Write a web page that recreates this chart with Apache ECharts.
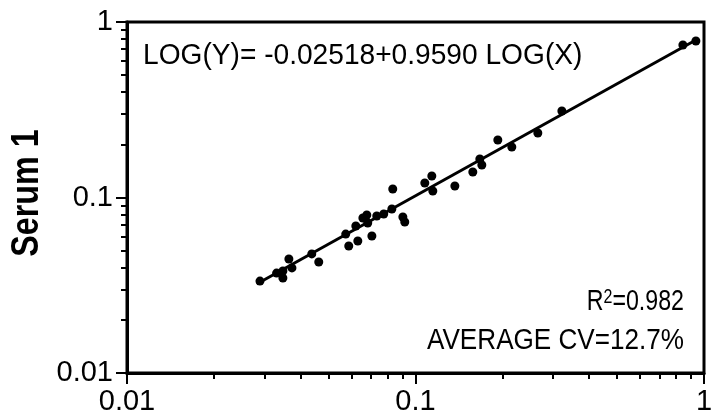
<!DOCTYPE html>
<html>
<head>
<meta charset="utf-8">
<script src="https://cdn.jsdelivr.net/npm/echarts@6/dist/echarts.min.js"></script>
<style>
html,body{margin:0;padding:0;background:#fff;}
#chart{width:711px;height:420px;}
</style>
</head>
<body>
<div id="chart"></div>
<script>
// Scatter values (Serum 1 vs reference)
const xVals = [0.0289,0.0330,0.0347,0.0347,0.0364,0.0373,0.0437,0.0462,0.0573,0.0587,
               0.0631,0.0621,0.0657,0.0678,0.0683,0.0706,0.0734,0.0776,0.0828,0.0834,
               0.0904,0.0918,0.1077,0.1139,0.1148,0.1369,0.1580,0.1671,0.1698,0.1929,
               0.2157,0.2655,0.3216,0.8449,0.9374];
const yVals = [0.0334,0.0371,0.0381,0.0348,0.0446,0.0397,0.0477,0.0429,0.0619,0.0529,
               0.0565,0.0688,0.0764,0.0795,0.0716,0.0603,0.0785,0.0805,0.0860,0.1118,
               0.0774,0.0725,0.1209,0.1326,0.1089,0.1163,0.1397,0.1658,0.1532,0.2126,
               0.1940,0.2331,0.3111,0.7396,0.7792];
// Regression line endpoints
const fitX = [0.02816, 0.9374];
const fitY = [0.03214, 0.7895];
// Axis ticks
const majorTicks = [0.01, 0.1, 1];
const majorLabels = ['0.01', '0.1', '1'];
const minorTicks = [0.02,0.03,0.04,0.05,0.06,0.07,0.08,0.09,0.2,0.3,0.4,0.5,0.6,0.7,0.8,0.9];
const yTitle = 'Serum 1';
const eqText = 'LOG(Y)= -0.02518+0.9590 LOG(X)';
const r2Text = '{n|R}{s|2}{n|=0.982}';
const cvText = 'AVERAGE CV=12.7%';

const FONT = '"Liberation Sans", Arial, sans-serif';
const fmt = v => {
  let best = 0;
  majorTicks.forEach((t, i) => { if (Math.abs(Math.log10(t) - Math.log10(v)) < Math.abs(Math.log10(majorTicks[best]) - Math.log10(v))) best = i; });
  return majorLabels[best];
};

function majorAxis(extra) {
  return Object.assign({
    type: 'log', logBase: 10, min: 0.01, max: 1, gridIndex: 0,
    axisLine: {show: true, onZero: false, lineStyle: {color: '#000', width: 3}},
    axisTick: {show: true, inside: false, length: 11, customValues: majorTicks, lineStyle: {color: '#000', width: 2}},
    minorTick: {show: false},
    splitLine: {show: false},
    axisLabel: {show: true, customValues: majorTicks, formatter: fmt, color: '#000', fontFamily: FONT, fontSize: 29, margin: 14, showMinLabel: true, showMaxLabel: true},
  }, extra);
}
function minorAxis(extra) {
  return Object.assign({
    type: 'log', logBase: 10, min: 0.01, max: 1, gridIndex: 0,
    axisLine: {show: false, onZero: false},
    axisTick: {show: true, inside: false, length: 6, customValues: minorTicks, lineStyle: {color: '#000', width: 2}},
    splitLine: {show: false},
    axisLabel: {show: false},
  }, extra);
}

const chart = echarts.init(document.getElementById('chart'), null, {renderer: 'canvas'});
chart.setOption({
  animation: false,
  backgroundColor: '#fff',
  grid: {left: 127, right: 7, top: 22, bottom: 47, show: true, borderColor: '#000', borderWidth: 3,
         backgroundColor: 'transparent', containLabel: false, outerBoundsMode: 'none'},
  xAxis: [
    majorAxis({position: 'bottom'}),
    minorAxis({position: 'bottom'})
  ],
  yAxis: [
    majorAxis({position: 'left'}),
    minorAxis({position: 'left'})
  ],
  series: [
    {type: 'line', xAxisIndex: 0, yAxisIndex: 0, data: fitX.map((x, i) => [x, fitY[i]]),
     showSymbol: false, symbol: 'none', lineStyle: {color: '#000', width: 3}, z: 3},
    {type: 'scatter', xAxisIndex: 0, yAxisIndex: 0, data: xVals.map((x, i) => [x, yVals[i]]),
     symbol: 'circle', symbolSize: 9, itemStyle: {color: '#000', opacity: 1}, z: 4}
  ],
  graphic: [
    {type: 'text', x: 28, y: 193, rotation: Math.PI / 2, scaleX: 0.85,
     style: {text: yTitle, fontFamily: FONT, fontWeight: 'bold', fontSize: 38, fill: '#000', align: 'center', verticalAlign: 'middle'}},
    {type: 'text', x: 143, y: 56, scaleX: 0.97,
     style: {text: eqText, fontFamily: FONT, fontSize: 29, fill: '#000', align: 'left', verticalAlign: 'middle'}},
    {type: 'text', x: 684, y: 302, scaleX: 0.8,
     style: {text: r2Text, fill: '#000', align: 'right', verticalAlign: 'middle',
       rich: {n: {fontFamily: FONT, fontSize: 29, fill: '#000', lineHeight: 30},
              s: {fontFamily: FONT, fontSize: 20, fill: '#000', verticalAlign: 'top', lineHeight: 20}}}},
    {type: 'text', x: 684, y: 341, scaleX: 0.9,
     style: {text: cvText, fontFamily: FONT, fontSize: 29, fill: '#000', align: 'right', verticalAlign: 'middle'}}
  ]
});
</script>
</body>
</html>
